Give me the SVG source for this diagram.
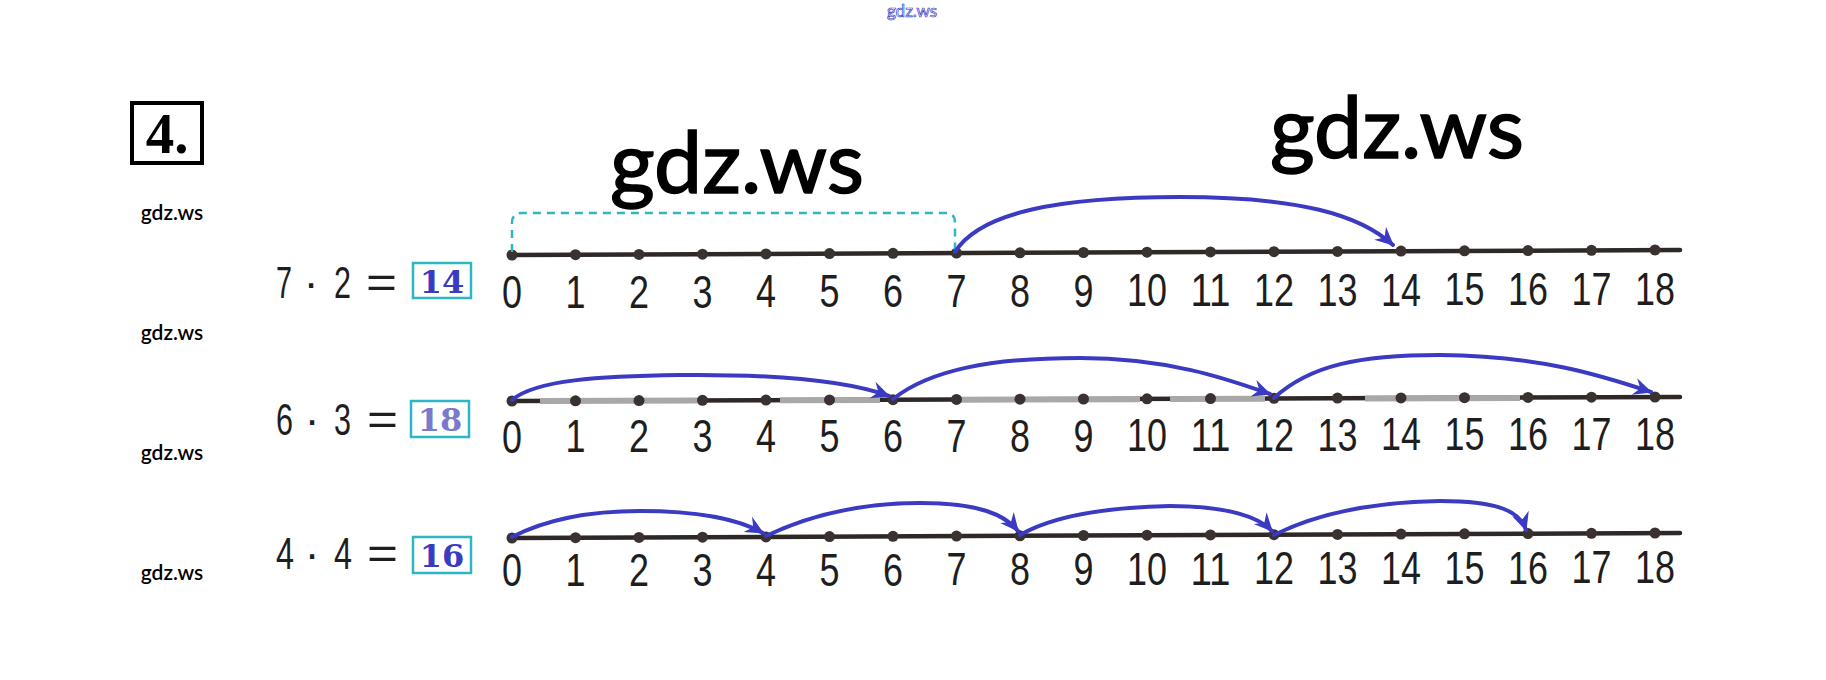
<svg xmlns="http://www.w3.org/2000/svg" width="1826" height="680" viewBox="0 0 1826 680">
<style>
.wm{font-family:Lato,"Open Sans",sans-serif;fill:#000}
.big{font-size:86px;stroke:#000;stroke-width:1.6}
.sm{font-size:21px;font-weight:600}
.num{font-family:"Liberation Sans",Arial,sans-serif;font-size:46px;fill:#1e1e1e;text-anchor:middle}
.eq{font-family:"Liberation Sans",Arial,sans-serif;font-size:44px;fill:#1e1e1e}
.ans{font-family:"DejaVu Serif",serif;font-weight:bold;font-size:32px;text-anchor:middle}
.box{fill:none;stroke:#2fb6c6;stroke-width:2.5}
.axis{stroke:#2e2826;stroke-width:4.5;fill:none;stroke-linecap:round}
.gray{stroke:#a8a8a8;stroke-width:6;fill:none}
.arc{stroke:#3a3ac2;stroke-width:4;fill:none;stroke-linecap:round;marker-end:url(#ah)}
.dash{stroke:#2fb6c6;stroke-width:2.5;fill:none;stroke-dasharray:8 6}
circle{fill:#3a3230}
</style>
<defs>
<marker id="ah" markerUnits="userSpaceOnUse" viewBox="0 0 16 16" refX="14" refY="8" markerWidth="20" markerHeight="20" orient="auto">
<path d="M0,1 L15,8 L0,15 L5,8 Z" fill="#3a3ac2"/>
</marker>
</defs>
<rect width="1826" height="680" fill="#fff"/>

<g id="watermarks">
<text x="912" y="17" font-family="Lato,sans-serif" font-size="17" text-anchor="middle" fill="#fff" stroke="#3434c8" stroke-width="0.7">gdz.ws</text>
<text class="wm big" x="737" y="193" text-anchor="middle">gdz.ws</text>
<text class="wm big" x="1397" y="158" text-anchor="middle">gdz.ws</text>
<text class="wm sm" x="172" y="220" text-anchor="middle">gdz.ws</text>
<text class="wm sm" x="172" y="340" text-anchor="middle">gdz.ws</text>
<text class="wm sm" x="172" y="460" text-anchor="middle">gdz.ws</text>
<text class="wm sm" x="172" y="580" text-anchor="middle">gdz.ws</text>
</g>

<g id="task-number">
<rect x="132" y="103" width="70" height="60" fill="none" stroke="#000" stroke-width="4"/>
<text x="167" y="153" font-family="Liberation Serif,serif" font-weight="bold" font-size="57" text-anchor="middle" fill="#000">4.</text>
</g>

<!-- Row 1 -->
<g id="eq1">
<text class="eq" x="276" y="298" textLength="16" lengthAdjust="spacingAndGlyphs">7</text>
<text class="eq" x="311" y="298" text-anchor="middle">·</text>
<text class="eq" x="334" y="298" textLength="17" lengthAdjust="spacingAndGlyphs">2</text>
<text class="eq" x="366" y="298" textLength="31" lengthAdjust="spacingAndGlyphs">=</text>
<rect class="box" x="413" y="263" width="58" height="35"/>
<text class="ans" x="442" y="293" fill="#3a3ac2">14</text>
</g>
<g id="line1">
<path class="axis" d="M512,255 L1680,250"/>
<g id="pts1">
<circle cx="512" cy="255" r="5.5"/><circle cx="575.5" cy="254.7" r="5.5"/><circle cx="639" cy="254.4" r="5.5"/><circle cx="702.5" cy="254.2" r="5.5"/><circle cx="766" cy="253.9" r="5.5"/><circle cx="829.5" cy="253.6" r="5.5"/><circle cx="893" cy="253.3" r="5.5"/><circle cx="956.5" cy="253.1" r="5.5"/><circle cx="1020" cy="252.8" r="5.5"/><circle cx="1083.5" cy="252.5" r="5.5"/><circle cx="1147" cy="252.2" r="5.5"/><circle cx="1210.5" cy="251.9" r="5.5"/><circle cx="1274" cy="251.7" r="5.5"/><circle cx="1337.5" cy="251.4" r="5.5"/><circle cx="1401" cy="251.1" r="5.5"/><circle cx="1464.5" cy="250.8" r="5.5"/><circle cx="1528" cy="250.6" r="5.5"/><circle cx="1591.5" cy="250.3" r="5.5"/><circle cx="1655" cy="250" r="5.5"/>
</g>
<g id="labels1">
<text class="num" x="512" y="308" textLength="20" lengthAdjust="spacingAndGlyphs">0</text><text class="num" x="575.5" y="308" textLength="20" lengthAdjust="spacingAndGlyphs">1</text><text class="num" x="639" y="308" textLength="20" lengthAdjust="spacingAndGlyphs">2</text><text class="num" x="702.5" y="308" textLength="20" lengthAdjust="spacingAndGlyphs">3</text><text class="num" x="766" y="307" textLength="20" lengthAdjust="spacingAndGlyphs">4</text><text class="num" x="829.5" y="307" textLength="20" lengthAdjust="spacingAndGlyphs">5</text><text class="num" x="893" y="307" textLength="20" lengthAdjust="spacingAndGlyphs">6</text><text class="num" x="956.5" y="307" textLength="20" lengthAdjust="spacingAndGlyphs">7</text><text class="num" x="1020" y="307" textLength="20" lengthAdjust="spacingAndGlyphs">8</text><text class="num" x="1083.5" y="307" textLength="20" lengthAdjust="spacingAndGlyphs">9</text>
<text class="num" x="1147" y="306" textLength="40" lengthAdjust="spacingAndGlyphs">10</text><text class="num" x="1210.5" y="306" textLength="40" lengthAdjust="spacingAndGlyphs">11</text><text class="num" x="1274" y="306" textLength="40" lengthAdjust="spacingAndGlyphs">12</text><text class="num" x="1337.5" y="306" textLength="40" lengthAdjust="spacingAndGlyphs">13</text><text class="num" x="1401" y="306" textLength="40" lengthAdjust="spacingAndGlyphs">14</text><text class="num" x="1464.5" y="305" textLength="40" lengthAdjust="spacingAndGlyphs">15</text><text class="num" x="1528" y="305" textLength="40" lengthAdjust="spacingAndGlyphs">16</text><text class="num" x="1591.5" y="305" textLength="40" lengthAdjust="spacingAndGlyphs">17</text><text class="num" x="1655" y="305" textLength="40" lengthAdjust="spacingAndGlyphs">18</text>
</g>
</g>

<!-- Row 2 -->
<g id="eq2">
<text class="eq" x="276" y="435" textLength="17" lengthAdjust="spacingAndGlyphs">6</text>
<text class="eq" x="312" y="435" text-anchor="middle">·</text>
<text class="eq" x="334" y="435" textLength="17" lengthAdjust="spacingAndGlyphs">3</text>
<text class="eq" x="367" y="435" textLength="31" lengthAdjust="spacingAndGlyphs">=</text>
<rect class="box" x="411" y="401" width="58" height="36"/>
<text class="ans" x="440" y="431" fill="#7a7acc">18</text>
</g>
<g id="line2">
<path class="axis" d="M512,401 L1680,397"/>
<path class="gray" d="M540,401 L700,400.5 M780,400.3 L880,400 M960,399.7 L1140,399.2 M1170,399.1 L1265,398.8 M1365,398.5 L1520,398"/>
<g id="pts2">
<circle cx="512" cy="401" r="5.5"/><circle cx="575.5" cy="400.8" r="5.5"/><circle cx="639" cy="400.6" r="5.5"/><circle cx="702.5" cy="400.3" r="5.5"/><circle cx="766" cy="400.1" r="5.5"/><circle cx="829.5" cy="399.9" r="5.5"/><circle cx="893" cy="399.7" r="5.5"/><circle cx="956.5" cy="399.4" r="5.5"/><circle cx="1020" cy="399.2" r="5.5"/><circle cx="1083.5" cy="399" r="5.5"/><circle cx="1147" cy="398.8" r="5.5"/><circle cx="1210.5" cy="398.6" r="5.5"/><circle cx="1274" cy="398.3" r="5.5"/><circle cx="1337.5" cy="398.1" r="5.5"/><circle cx="1401" cy="397.9" r="5.5"/><circle cx="1464.5" cy="397.7" r="5.5"/><circle cx="1528" cy="397.4" r="5.5"/><circle cx="1591.5" cy="397.2" r="5.5"/><circle cx="1655" cy="397" r="5.5"/>
</g>
<g id="labels2">
<text class="num" x="512" y="453" textLength="20" lengthAdjust="spacingAndGlyphs">0</text><text class="num" x="575.5" y="452" textLength="20" lengthAdjust="spacingAndGlyphs">1</text><text class="num" x="639" y="452" textLength="20" lengthAdjust="spacingAndGlyphs">2</text><text class="num" x="702.5" y="452" textLength="20" lengthAdjust="spacingAndGlyphs">3</text><text class="num" x="766" y="452" textLength="20" lengthAdjust="spacingAndGlyphs">4</text><text class="num" x="829.5" y="452" textLength="20" lengthAdjust="spacingAndGlyphs">5</text><text class="num" x="893" y="452" textLength="20" lengthAdjust="spacingAndGlyphs">6</text><text class="num" x="956.5" y="452" textLength="20" lengthAdjust="spacingAndGlyphs">7</text><text class="num" x="1020" y="452" textLength="20" lengthAdjust="spacingAndGlyphs">8</text><text class="num" x="1083.5" y="452" textLength="20" lengthAdjust="spacingAndGlyphs">9</text>
<text class="num" x="1147" y="451" textLength="40" lengthAdjust="spacingAndGlyphs">10</text><text class="num" x="1210.5" y="451" textLength="40" lengthAdjust="spacingAndGlyphs">11</text><text class="num" x="1274" y="451" textLength="40" lengthAdjust="spacingAndGlyphs">12</text><text class="num" x="1337.5" y="451" textLength="40" lengthAdjust="spacingAndGlyphs">13</text><text class="num" x="1401" y="450" textLength="40" lengthAdjust="spacingAndGlyphs">14</text><text class="num" x="1464.5" y="450" textLength="40" lengthAdjust="spacingAndGlyphs">15</text><text class="num" x="1528" y="450" textLength="40" lengthAdjust="spacingAndGlyphs">16</text><text class="num" x="1591.5" y="450" textLength="40" lengthAdjust="spacingAndGlyphs">17</text><text class="num" x="1655" y="450" textLength="40" lengthAdjust="spacingAndGlyphs">18</text>
</g>
</g>

<!-- Row 3 -->
<g id="eq3">
<text class="eq" x="276" y="569" textLength="18" lengthAdjust="spacingAndGlyphs">4</text>
<text class="eq" x="312" y="569" text-anchor="middle">·</text>
<text class="eq" x="334" y="569" textLength="18" lengthAdjust="spacingAndGlyphs">4</text>
<text class="eq" x="367" y="569" textLength="31" lengthAdjust="spacingAndGlyphs">=</text>
<rect class="box" x="413" y="537" width="58" height="36"/>
<text class="ans" x="442" y="567" fill="#3a3ac2">16</text>
</g>
<g id="line3">
<path class="axis" d="M512,538 L1680,533"/>
<g id="pts3">
<circle cx="512" cy="538" r="5.5"/><circle cx="575.5" cy="537.7" r="5.5"/><circle cx="639" cy="537.4" r="5.5"/><circle cx="702.5" cy="537.2" r="5.5"/><circle cx="766" cy="536.9" r="5.5"/><circle cx="829.5" cy="536.6" r="5.5"/><circle cx="893" cy="536.3" r="5.5"/><circle cx="956.5" cy="536.1" r="5.5"/><circle cx="1020" cy="535.8" r="5.5"/><circle cx="1083.5" cy="535.5" r="5.5"/><circle cx="1147" cy="535.2" r="5.5"/><circle cx="1210.5" cy="534.9" r="5.5"/><circle cx="1274" cy="534.7" r="5.5"/><circle cx="1337.5" cy="534.4" r="5.5"/><circle cx="1401" cy="534.1" r="5.5"/><circle cx="1464.5" cy="533.8" r="5.5"/><circle cx="1528" cy="533.6" r="5.5"/><circle cx="1591.5" cy="533.3" r="5.5"/><circle cx="1655" cy="533" r="5.5"/>
</g>
<g id="labels3">
<text class="num" x="512" y="586" textLength="20" lengthAdjust="spacingAndGlyphs">0</text><text class="num" x="575.5" y="586" textLength="20" lengthAdjust="spacingAndGlyphs">1</text><text class="num" x="639" y="586" textLength="20" lengthAdjust="spacingAndGlyphs">2</text><text class="num" x="702.5" y="586" textLength="20" lengthAdjust="spacingAndGlyphs">3</text><text class="num" x="766" y="586" textLength="20" lengthAdjust="spacingAndGlyphs">4</text><text class="num" x="829.5" y="586" textLength="20" lengthAdjust="spacingAndGlyphs">5</text><text class="num" x="893" y="586" textLength="20" lengthAdjust="spacingAndGlyphs">6</text><text class="num" x="956.5" y="585" textLength="20" lengthAdjust="spacingAndGlyphs">7</text><text class="num" x="1020" y="585" textLength="20" lengthAdjust="spacingAndGlyphs">8</text><text class="num" x="1083.5" y="585" textLength="20" lengthAdjust="spacingAndGlyphs">9</text>
<text class="num" x="1147" y="585" textLength="40" lengthAdjust="spacingAndGlyphs">10</text><text class="num" x="1210.5" y="585" textLength="40" lengthAdjust="spacingAndGlyphs">11</text><text class="num" x="1274" y="584" textLength="40" lengthAdjust="spacingAndGlyphs">12</text><text class="num" x="1337.5" y="584" textLength="40" lengthAdjust="spacingAndGlyphs">13</text><text class="num" x="1401" y="584" textLength="40" lengthAdjust="spacingAndGlyphs">14</text><text class="num" x="1464.5" y="584" textLength="40" lengthAdjust="spacingAndGlyphs">15</text><text class="num" x="1528" y="584" textLength="40" lengthAdjust="spacingAndGlyphs">16</text><text class="num" x="1591.5" y="583" textLength="40" lengthAdjust="spacingAndGlyphs">17</text><text class="num" x="1655" y="583" textLength="40" lengthAdjust="spacingAndGlyphs">18</text>
</g>
</g>

<!-- connectors -->
<g id="connectors">
<path class="dash" d="M512,252 L512,223 Q512,213 522,213 L946,213 Q955,213 955,223 L955,250"/>
<path class="arc" d="M955,252 C980,212 1060,197 1180,197 C1300,197 1360,215 1393,245"/>
<path class="arc" d="M512,400 C535,380 600,376 680,375 C780,374 850,382 889,396"/>
<path class="arc" d="M893,399 C930,370 990,358 1080,358 C1170,358 1230,380 1270,394"/>
<path class="arc" d="M1274,398 C1310,365 1360,355 1440,355 C1540,356 1600,375 1651,392"/>
<path class="arc" d="M512,537 C545,520 590,511 640,511 C700,511 740,520 763,533"/>
<path class="arc" d="M766,536 C810,515 860,503 920,503 C980,503 1005,515 1018,531"/>
<path class="arc" d="M1020,535 C1060,512 1120,507 1170,506 C1230,506 1260,518 1272,531"/>
<path class="arc" d="M1274,535 C1320,512 1380,502 1440,501 C1500,501 1520,512 1526,530"/>
</g>
</svg>
